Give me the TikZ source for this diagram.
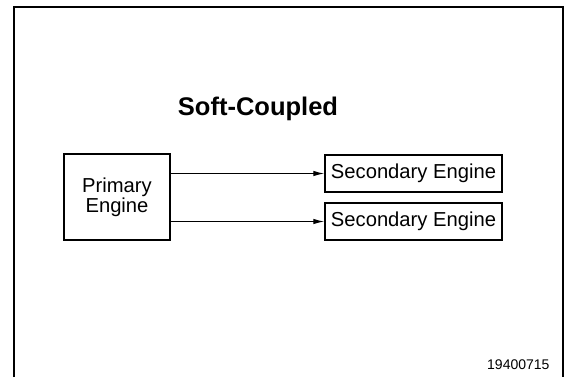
\documentclass[tikz,border=0pt]{standalone}
\usepackage{fontspec}
\setmainfont{Liberation Sans}
\usetikzlibrary{arrows.meta,positioning}

\begin{document}
\begin{tikzpicture}[x=1pt, y=-1pt,
    engbox/.style={draw, line width=1.4pt, inner sep=0pt, align=center, font=\fontsize{20.2}{16.5}\selectfont},
    arr/.style={-{Latex[length=11pt, width=5.5pt]}, line width=1.1pt}
]
\useasboundingbox (0,0) rectangle (569,377);
% frame
\draw[line width=2pt] (14,377) -- (14,7) -- (563,7) -- (563,377);

\node[font=\fontsize{25.5}{28}\selectfont\bfseries, anchor=base] (title) at (258,115) {Soft-Coupled};

\node[engbox, minimum width=106pt, minimum height=86pt] (prim) at (117,197) {Primary\\Engine};
\node[engbox, minimum width=177pt, minimum height=37pt] (sec1) at (413.5,173.5) {Secondary Engine};
\node[engbox, minimum width=177pt, minimum height=37pt] (sec2) at (413.5,221.5) {Secondary Engine};

\draw[arr] (prim.east |- sec1.west) -- (sec1.west);
\draw[arr] (prim.east |- sec2.west) -- (sec2.west);

\node[font=\fontsize{14}{15}\selectfont, anchor=base east] (fig) at (553,369) {19400715};
\end{tikzpicture}
\end{document}
